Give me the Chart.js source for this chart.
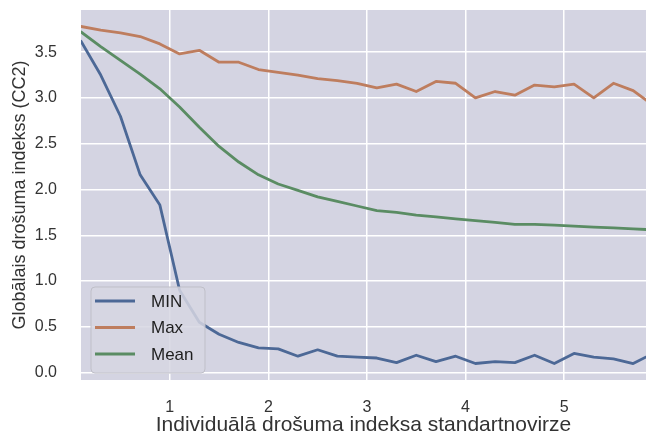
<!DOCTYPE html>
<html><head><meta charset="utf-8">
<script src="https://cdn.jsdelivr.net/npm/chart.js@4.4.1/dist/chart.umd.min.js"></script>
<style>html,body{margin:0;padding:0;background:#fff}canvas{display:block}</style>
</head><body>
<canvas id="c" width="646" height="437"></canvas>
<script>
const xValues = [0.1,0.3,0.5,0.7,0.9,1.1,1.3,1.5,1.7,1.9,2.1,2.3,2.5,2.7,2.9,3.1,3.3,3.5,3.7,3.9,4.1,4.3,4.5,4.7,4.9,5.1,5.3,5.5,5.7,5.9];
const minValues = [3.62,3.25,2.80,2.16,1.83,0.90,0.55,0.42,0.33,0.27,0.26,0.18,0.25,0.18,0.17,0.16,0.11,0.19,0.12,0.18,0.10,0.12,0.11,0.19,0.10,0.21,0.17,0.15,0.10,0.21];
const maxValues = [3.78,3.74,3.71,3.67,3.59,3.48,3.52,3.39,3.39,3.31,3.28,3.25,3.21,3.19,3.16,3.11,3.15,3.07,3.18,3.16,3.00,3.07,3.03,3.14,3.12,3.15,3.00,3.16,3.08,2.92];
const meanValues = [3.72,3.56,3.41,3.26,3.10,2.90,2.68,2.47,2.30,2.16,2.06,1.99,1.92,1.87,1.82,1.77,1.75,1.72,1.70,1.68,1.66,1.64,1.62,1.62,1.61,1.60,1.59,1.58,1.57,1.56];
const seriesLabels = ['MIN','Max','Mean'];
const xTicks = [1,2,3,4,5];
const yTicks = [0,0.5,1,1.5,2,2.5,3,3.5];
const xTitle = 'Individuālā drošuma indeksa standartnovirze';
const yTitle = 'Globālais drošuma indekss (CC2)';

const seriesValues = [minValues, maxValues, meanValues];
const colors = ['#4c6896','#be7d5e','#5a8c63'];
const BG = '#d4d4e2';
const FONT = 'Liberation Sans, Arial, sans-serif';

const bgPlugin = {
  id: 'bg',
  beforeDraw(chart) {
    const {ctx, chartArea: a} = chart;
    ctx.save();
    ctx.fillStyle = BG;
    ctx.fillRect(a.left, a.top, a.right - a.left, a.bottom - a.top);
    ctx.restore();
  }
};

const legendPlugin = {
  id: 'lg',
  afterDatasetsDraw(chart) {
    const {ctx, chartArea: a} = chart;
    const x0 = a.left + 10, y0 = a.bottom - 93, w = 114, h = 86, r = 4;
    ctx.save();
    ctx.beginPath();
    ctx.moveTo(x0 + r, y0);
    ctx.arcTo(x0 + w, y0, x0 + w, y0 + h, r);
    ctx.arcTo(x0 + w, y0 + h, x0, y0 + h, r);
    ctx.arcTo(x0, y0 + h, x0, y0, r);
    ctx.arcTo(x0, y0, x0 + w, y0, r);
    ctx.closePath();
    ctx.fillStyle = 'rgba(214,214,226,0.85)';
    ctx.fill();
    ctx.strokeStyle = '#bfbfc8';
    ctx.lineWidth = 1;
    ctx.stroke();
    ctx.font = '17px ' + FONT;
    ctx.textBaseline = 'middle';
    ctx.fillStyle = '#1e1e1e';
    chart.data.datasets.forEach((d, i) => {
      const y = y0 + 14 + i * 26.5;
      ctx.beginPath();
      ctx.moveTo(x0 + 4, y);
      ctx.lineTo(x0 + 44, y);
      ctx.strokeStyle = d.borderColor;
      ctx.lineWidth = 2.8;
      ctx.stroke();
      ctx.fillText(d.label, x0 + 60, y + 1);
    });
    ctx.restore();
  }
};

function zeroPad(s) { s.paddingTop = 0; s.paddingBottom = 0; s.paddingLeft = 0; s.paddingRight = 0; }

new Chart(document.getElementById('c'), {
  type: 'line',
  data: {
    datasets: seriesLabels.map((label, i) => ({
      label,
      data: xValues.map((x, j) => ({x, y: seriesValues[i][j]})),
      borderColor: colors[i],
      backgroundColor: colors[i],
      borderWidth: 2.8,
      pointRadius: 0,
      tension: 0,
      fill: false,
      borderJoinStyle: 'round',
      borderCapStyle: 'round'
    }))
  },
  options: {
    responsive: false,
    animation: false,
    devicePixelRatio: 1,
    layout: {padding: {top: 10, right: 0, left: 0, bottom: 0}},
    plugins: {legend: {display: false}, tooltip: {enabled: false}},
    scales: {
      x: {
        type: 'linear', min: 0.1, max: 5.83,
        afterBuildTicks: s => { s.ticks = xTicks.map(v => ({value: v})); },
        afterFit: s => { s.height = 57; zeroPad(s); },
        grid: {color: '#ffffff', lineWidth: 1.5, drawTicks: false},
        border: {display: false},
        ticks: {padding: 18, color: '#333', font: {family: FONT, size: 16}, callback: v => String(v), maxRotation: 0},
        title: {display: true, text: xTitle, color: '#333', font: {family: FONT, size: 21}, padding: {top: 0, bottom: -1}}
      },
      y: {
        type: 'linear', min: -0.08, max: 3.96,
        afterBuildTicks: s => { s.ticks = yTicks.map(v => ({value: v})); },
        afterFit: s => { s.width = 81; zeroPad(s); },
        grid: {color: '#ffffff', lineWidth: 1.5, drawTicks: false},
        border: {display: false},
        ticks: {padding: 24, color: '#333', font: {family: FONT, size: 16}, callback: v => Number(v).toFixed(1)},
        title: {display: true, text: yTitle, color: '#333', font: {family: FONT, size: 18}, padding: {top: 9, bottom: 0}}
      }
    }
  },
  plugins: [bgPlugin, legendPlugin]
});
</script>
</body></html>
